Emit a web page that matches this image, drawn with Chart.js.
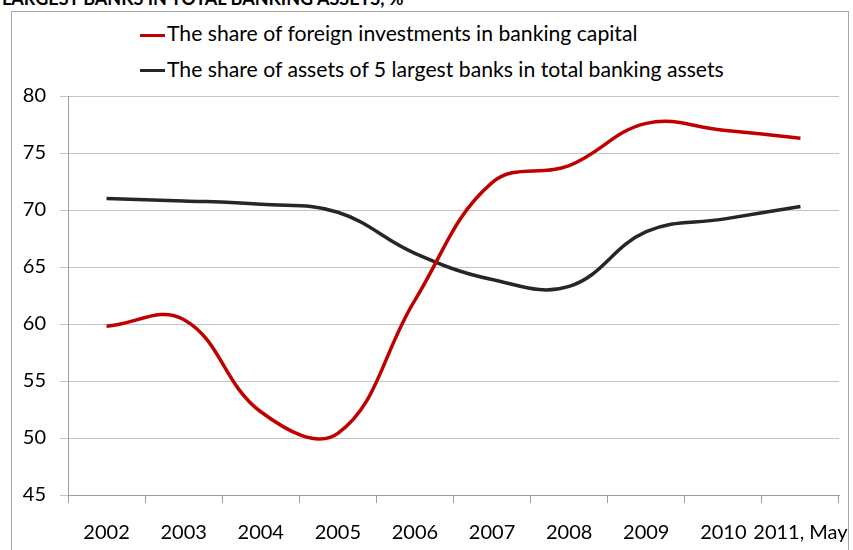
<!DOCTYPE html>
<html>
<head>
<meta charset="utf-8">
<script src="https://cdn.jsdelivr.net/npm/chart.js@4.4.1/dist/chart.umd.min.js"></script>
<style>
  body { margin: 0; background: #fff; font-family: Lato, sans-serif; }
  #wrap { position: relative; width: 853px; height: 550px; overflow: hidden; }
  #title { position: absolute; left: 2px; top: -11px; font-weight: bold; font-size: 18px; line-height: 18px; white-space: nowrap; color: #000; }
  #frame { position: absolute; left: 11px; top: 11px; width: 836px; height: 600px; border: 1px solid #a6a6a6; }
  #chart { position: absolute; left: 0; top: 0; }
  .leg { position: absolute; left: 140px; font-size: 21.2px; line-height: 24px; white-space: nowrap; color: #000; }
  .leg span { display: inline-block; width: 25px; height: 3px; vertical-align: middle; margin-right: 2px; position: relative; top: -1px; }
</style>
</head>
<body>
<div id="wrap">
  <div id="title">LARGEST BANKS IN TOTAL BANKING ASSETS, %</div>
  <div id="frame"></div>
  <div id="legend"></div>
  <canvas id="chart" width="853" height="550"></canvas>
</div>
<script>
  const years = ['2002', '2003', '2004', '2005', '2006', '2007', '2008', '2009', '2010', '2011, May'];
  const foreignShare = [59.8, 60.4, 52.3, 50.4, 62.1, 72.4, 73.9, 77.6, 77.0, 76.3];
  const top5Share = [71.0, 70.8, 70.5, 69.8, 66.2, 63.9, 63.3, 68.1, 69.2, 70.3];
  const seriesNames = [
    'The share of foreign investments in banking capital',
    'The share of assets of 5 largest banks in total banking assets'
  ];
  const seriesColors = ['#c00000', '#262626'];

  // Legend: one item per line, left aligned
  const legend = document.getElementById('legend');
  seriesNames.forEach((name, i) => {
    const item = document.createElement('div');
    item.className = 'leg';
    item.style.top = (21.4 + i * 35.3) + 'px';
    item.innerHTML = '<span style="background:' + seriesColors[i] + '"></span>' + name;
    legend.appendChild(item);
  });

  const ctx = document.getElementById('chart').getContext('2d');
  new Chart(ctx, {
    type: 'line',
    data: {
      labels: years,
      datasets: [
        { label: seriesNames[0], data: foreignShare, borderColor: seriesColors[0], borderWidth: 3.5, pointRadius: 0, tension: 0.4, fill: false },
        { label: seriesNames[1], data: top5Share, borderColor: seriesColors[1], borderWidth: 3.5, pointRadius: 0, tension: 0.4, fill: false }
      ]
    },
    options: {
      responsive: false,
      animation: false,
      layout: { padding: { top: 96, right: 14, left: 0, bottom: 0 } },
      plugins: { legend: { display: false }, tooltip: { enabled: false } },
      scales: {
        x: {
          offset: true,
          grid: { offset: true, drawOnChartArea: false, tickLength: 8, color: '#a0a0a0' },
          border: { color: '#a0a0a0' },
          ticks: { color: '#000', font: { family: 'Lato', size: 20 }, padding: 18, maxRotation: 0, autoSkip: false },
          afterFit: (scale) => { scale.height = 55; scale.paddingLeft = 0; scale.paddingRight = 0; }
        },
        y: {
          min: 45,
          max: 80,
          grid: { color: '#c4c4c4', tickLength: 8 },
          border: { color: '#a0a0a0' },
          ticks: { stepSize: 5, color: '#000', font: { family: 'Lato', size: 20 }, padding: 14 },
          afterFit: (scale) => { scale.width = 68; }
        }
      }
    }
  });
</script>
</body>
</html>
